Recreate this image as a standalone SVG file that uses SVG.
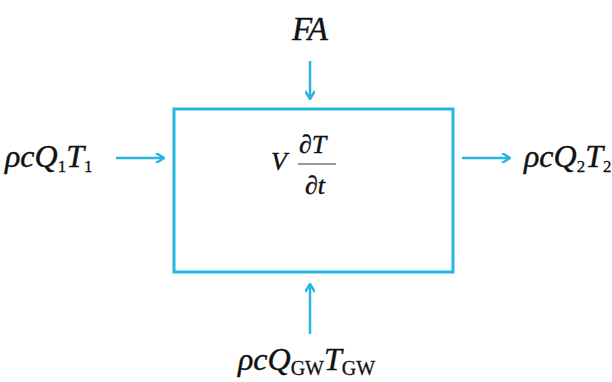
<svg xmlns="http://www.w3.org/2000/svg" width="612" height="382" viewBox="0 0 612 382" font-family="Liberation Serif">
<style>
text{fill:#111;stroke:#111;stroke-width:0.4}
.t{font-style:italic;font-size:32px}
.m{font-style:italic;font-size:26px}
.s{font-style:normal;font-size:17px;stroke-width:0.3}
.g{font-style:normal;font-size:20px;stroke-width:0.3}
.c{stroke:#27b6df;stroke-width:2.5;fill:none}
</style>
<defs>
<marker id="ah" markerWidth="10" markerHeight="10" refX="9" refY="5" orient="auto" markerUnits="userSpaceOnUse">
<path d="M1,0 L9,5 L1,10" fill="none" stroke="#27b6df" stroke-width="2.5"/>
</marker>
</defs>
<rect width="612" height="382" fill="#fff" stroke="none"/>
<g id="box">
<rect x="174" y="109" width="279" height="163" fill="none" stroke="#27b6df" stroke-width="3"/>
<text class="m" x="271" y="170" font-family="Liberation Serif">V</text>
<text class="m" x="299" y="153" font-family="Liberation Serif">∂T</text>
<line x1="298" y1="164" x2="336" y2="164" stroke="#333" stroke-width="1.2"/>
<text class="m" x="305" y="194" font-family="Liberation Serif">∂t</text>
</g>
<g id="fa"><text class="t" x="310" y="40" text-anchor="middle" font-family="Liberation Serif" style="font-size:33px">FA</text></g>
<g id="in1"><text class="t" x="5" y="167" font-family="Liberation Serif">ρcQ<tspan class="s" dy="5">1</tspan><tspan dy="-5">T</tspan><tspan class="s" dy="5">1</tspan></text></g>
<g id="out2"><text class="t" x="524" y="167" font-family="Liberation Serif">ρcQ<tspan class="s" dy="5">2</tspan><tspan dy="-5">T</tspan><tspan class="s" dy="5">2</tspan></text></g>
<g id="gw"><text class="t" x="238" y="370" font-family="Liberation Serif">ρcQ<tspan class="g" dy="5">GW</tspan><tspan dy="-5">T</tspan><tspan class="g" dy="5">GW</tspan></text></g>
<g id="connectors">
<line class="c" x1="116" y1="158" x2="164" y2="158" marker-end="url(#ah)"/>
<line class="c" x1="462" y1="158" x2="510" y2="158" marker-end="url(#ah)"/>
<line class="c" x1="310" y1="61" x2="310" y2="99" marker-end="url(#ah)"/>
<line class="c" x1="310" y1="334" x2="310" y2="284" marker-end="url(#ah)"/>
</g>
</svg>
